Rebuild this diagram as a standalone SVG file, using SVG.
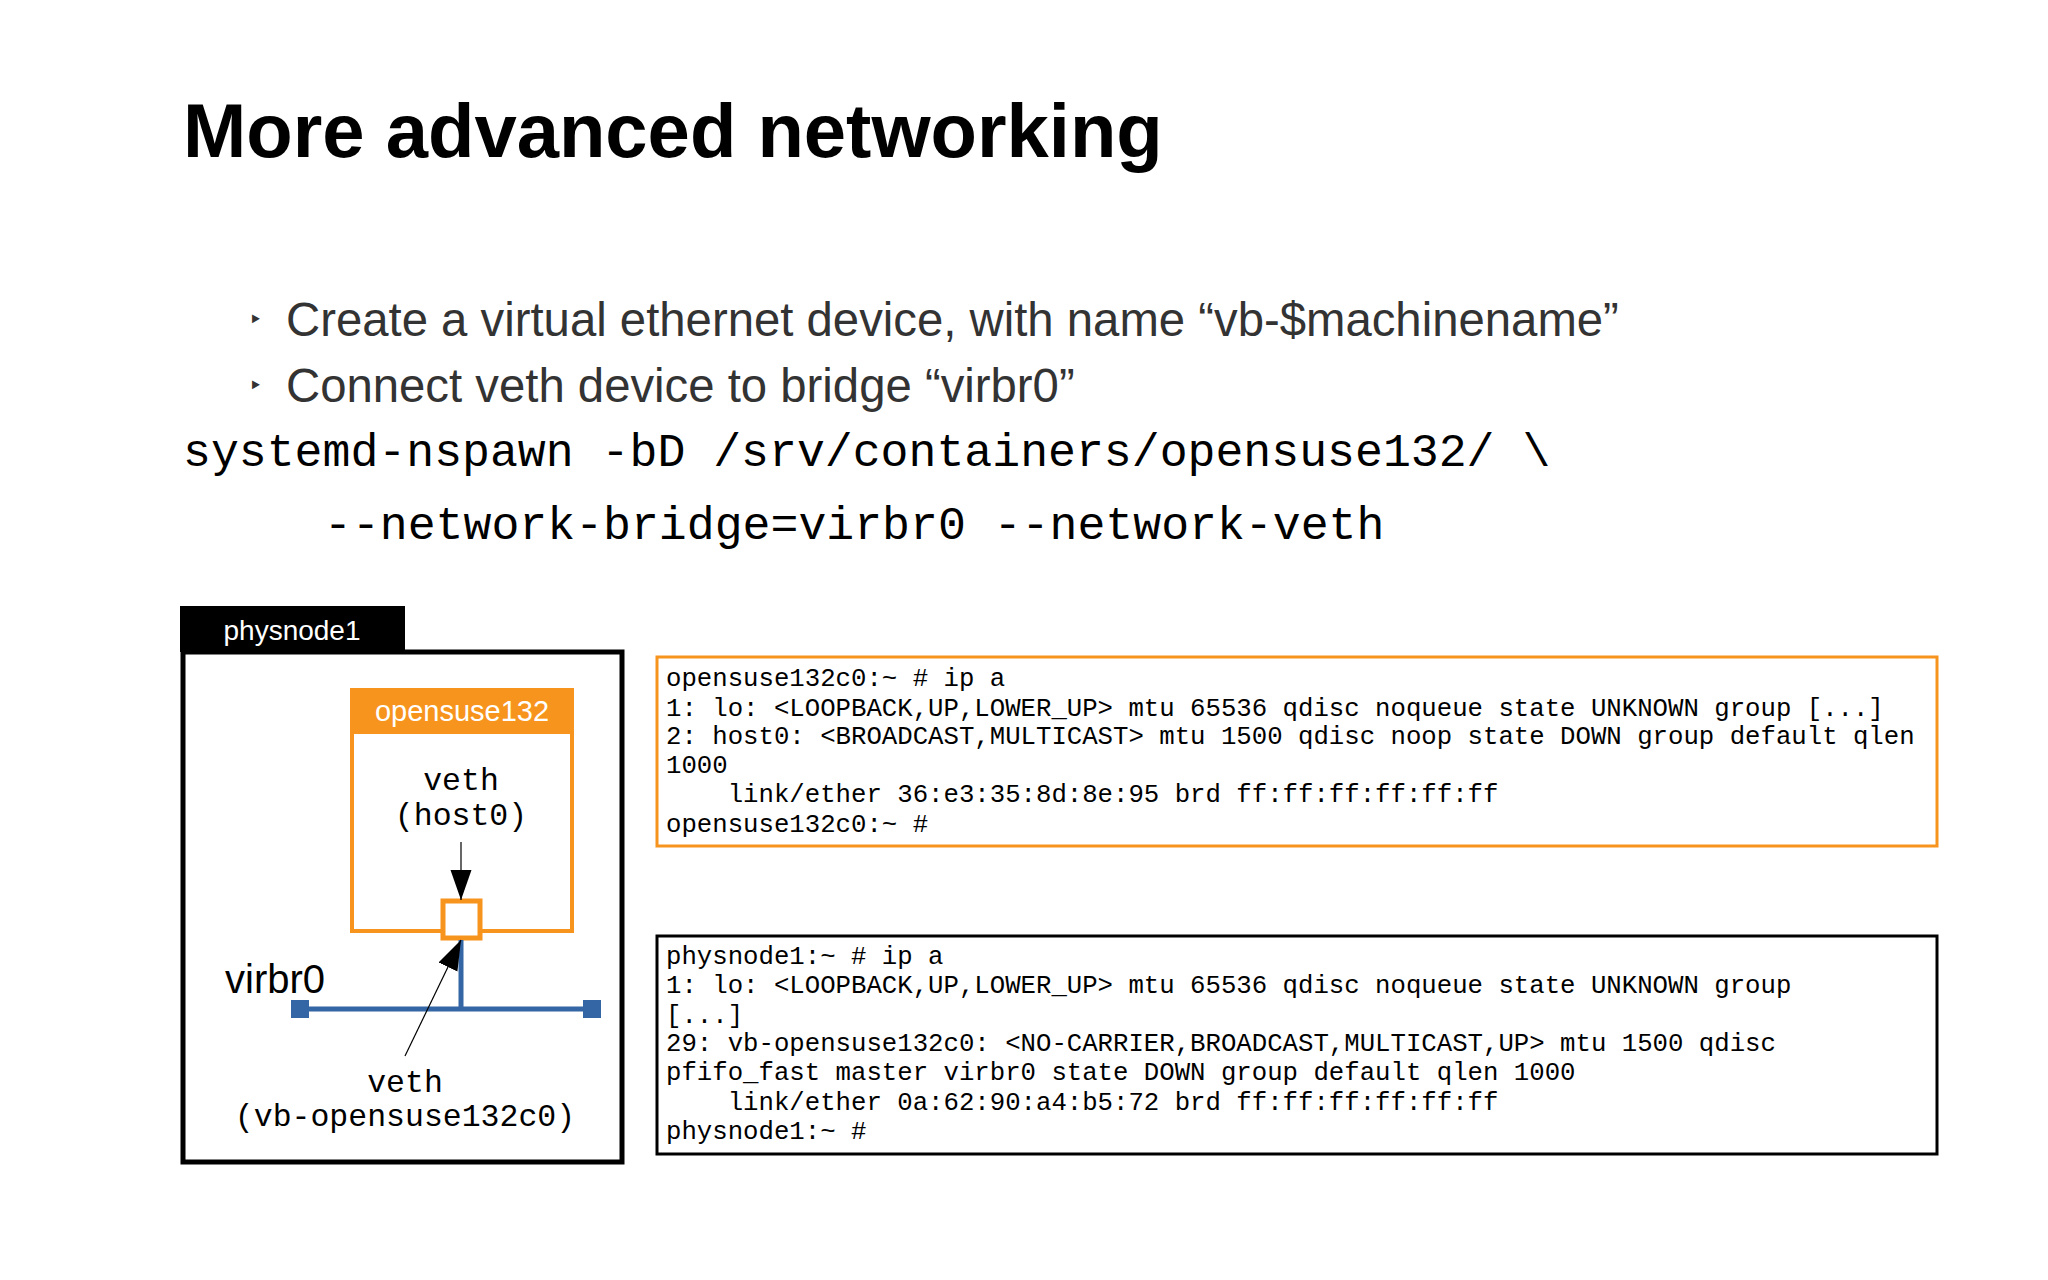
<svg xmlns="http://www.w3.org/2000/svg" width="2048" height="1280" viewBox="0 0 2048 1280">
<defs>
<style>
.sans{font-family:"Liberation Sans",Arial,sans-serif}
.mono{font-family:"Liberation Mono","Courier New",monospace}
.term{font-family:"Liberation Mono","Courier New",monospace;font-size:25.7px;fill:#000;white-space:pre}
.lbl{font-family:"Liberation Mono",monospace;font-size:31.5px;text-anchor:middle}
</style>
<marker id="ah2" viewBox="0 0 10 10" refX="10" refY="5" markerWidth="30" markerHeight="30" markerUnits="userSpaceOnUse" orient="auto">
<path d="M0,1.5 L10,5 L0,8.5 z" fill="#000"/>
</marker>
</defs>
<rect width="2048" height="1280" fill="#fff"/>
<text class="sans" x="183" y="157" font-size="76" font-weight="bold">More advanced networking</text>
<g class="sans" font-size="47.3" fill="#333">
<text x="250" y="330" font-size="30">‣</text>
<text x="286" y="336">Create a virtual ethernet device, with name “vb-$machinename”</text>
<text x="250" y="396" font-size="30">‣</text>
<text x="286" y="402">Connect veth device to bridge “virbr0”</text>
</g>
<g class="mono" font-size="46.5" fill="#000">
<text x="183" y="466">systemd-nspawn -bD /srv/containers/opensuse132/ \</text>
<text x="324" y="539">--network-bridge=virbr0 --network-veth</text>
</g>
<g id="physnode1">
<rect x="180" y="606" width="225" height="46" fill="#000"/>
<rect x="183" y="652" width="439" height="510" fill="#fff" stroke="#000" stroke-width="5"/>
<text class="sans" x="292" y="640" font-size="28" fill="#fff" text-anchor="middle">physnode1</text>
</g>
<g id="opensuse132">
<rect x="352" y="690" width="220" height="241" fill="#fff" stroke="#f7941d" stroke-width="4"/>
<rect x="350" y="688" width="224" height="46" fill="#f7941d"/>
<text class="sans" x="462" y="721" font-size="29" fill="#fff" text-anchor="middle">opensuse132</text>
<text class="lbl" x="461" y="790">veth</text>
<text class="lbl" x="461" y="825">(host0)</text>
</g>
<g id="virbr0">
<text class="sans" x="225" y="993" font-size="40">virbr0</text>
<line x1="299" y1="1009" x2="592" y2="1009" stroke="#3465a4" stroke-width="5"/>
<rect x="291" y="1000" width="18" height="18" fill="#3465a4"/>
<rect x="583" y="1000" width="18" height="18" fill="#3465a4"/>
</g>
<g id="port">
<rect x="443" y="901" width="37" height="37" fill="#fff" stroke="#f7941d" stroke-width="5"/>
</g>
<g id="veth-host">
<text class="lbl" x="405" y="1092">veth</text>
<text class="lbl" x="405" y="1126">(vb-opensuse132c0)</text>
</g>
<g id="connectors">
<line x1="461" y1="940" x2="461" y2="1009" stroke="#3465a4" stroke-width="5"/>
<line x1="461" y1="842" x2="461" y2="900" stroke="#000" stroke-width="1.2" marker-end="url(#ah2)"/>
<line x1="405" y1="1056" x2="461" y2="940" stroke="#000" stroke-width="1.2" marker-end="url(#ah2)"/>
</g>
<g id="term1">
<rect x="657" y="657" width="1280" height="189" fill="#fff" stroke="#f7941d" stroke-width="3"/>
<text class="term" x="666" y="686">opensuse132c0:~ # ip a</text>
<text class="term" x="666" y="716">1: lo: &lt;LOOPBACK,UP,LOWER_UP&gt; mtu 65536 qdisc noqueue state UNKNOWN group [...]</text>
<text class="term" x="666" y="744">2: host0: &lt;BROADCAST,MULTICAST&gt; mtu 1500 qdisc noop state DOWN group default qlen</text>
<text class="term" x="666" y="773">1000</text>
<text class="term" x="666" y="802">    link/ether 36:e3:35:8d:8e:95 brd ff:ff:ff:ff:ff:ff</text>
<text class="term" x="666" y="832">opensuse132c0:~ #</text>
</g>
<g id="term2">
<rect x="657" y="936" width="1280" height="218" fill="#fff" stroke="#000" stroke-width="3"/>
<text class="term" x="666" y="964">physnode1:~ # ip a</text>
<text class="term" x="666" y="993">1: lo: &lt;LOOPBACK,UP,LOWER_UP&gt; mtu 65536 qdisc noqueue state UNKNOWN group</text>
<text class="term" x="666" y="1023">[...]</text>
<text class="term" x="666" y="1051">29: vb-opensuse132c0: &lt;NO-CARRIER,BROADCAST,MULTICAST,UP&gt; mtu 1500 qdisc</text>
<text class="term" x="666" y="1080">pfifo_fast master virbr0 state DOWN group default qlen 1000</text>
<text class="term" x="666" y="1110">    link/ether 0a:62:90:a4:b5:72 brd ff:ff:ff:ff:ff:ff</text>
<text class="term" x="666" y="1139">physnode1:~ #</text>
</g>
</svg>
